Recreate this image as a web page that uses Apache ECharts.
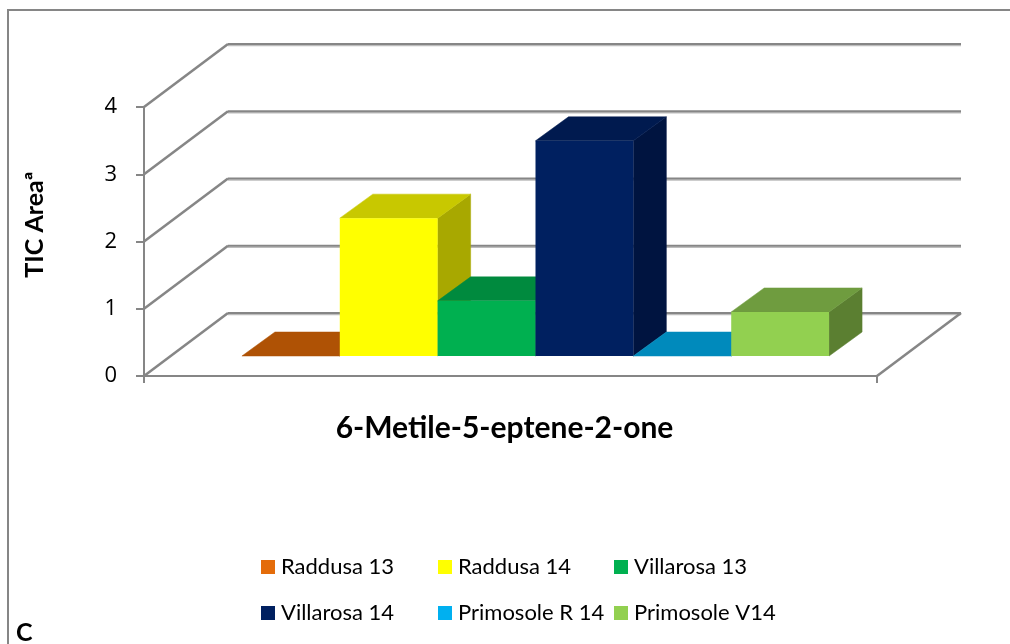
<!DOCTYPE html>
<html><head><meta charset="utf-8">
<style>html,body{margin:0;padding:0;background:#fff}#c{width:1010px;height:644px}</style>
<script src="https://cdn.jsdelivr.net/npm/echarts@6/dist/echarts.min.js"></script>
</head><body><div id="c"></div>
<script>
const categories = ['6-Metile-5-eptene-2-one'];
const seriesNames = ['Raddusa 13','Raddusa 14','Villarosa 13','Villarosa 14','Primosole R 14','Primosole V14'];
const seriesValues = [0, 2.05, 0.82, 3.2, 0, 0.655];
const yTicks = [0,1,2,3,4];
const frontColors = ['#E46C0A','#FFFF00','#00B050','#002060','#00B0F0','#92D050'];
const topColors   = ['#AF5205','#C8C800','#008A3E','#001A4F','#008ABC','#6F9C3F'];
const sideColors  = ['#8F4304','#A8A800','#00713A','#001440','#006F98','#5B7F31'];

const FONT = 'Lato';
const AXIS = '#868686';
const WALL_DX = 84, WALL_DY = -63;
const FRONT_DX = 25, FRONT_DY = -20;
const BAR_DX = 33, BAR_DY = -24;
const BAR_FRAC = 0.1335;

function wallItem(params, api){
  const v = api.value(1);
  const p = api.coord([0, v]);
  const band = api.size([1,0])[0];
  const x0 = p[0]-band/2, y0 = p[1];
  const bx = x0+WALL_DX, by = y0+WALL_DY;
  const children = [
    {type:'polyline',shape:{points:[[bx,by+1.6],[bx+band,by+1.6]]},style:{fill:null,stroke:'#BDBDBD',lineWidth:1.5}},
    {type:'polyline',shape:{points:[[bx,by],[bx+band,by]]},style:{fill:null,stroke:AXIS,lineWidth:2}},
    {type:'polyline',shape:{points:[[x0,y0],[bx,by]]},style:{fill:null,stroke:AXIS,lineWidth:2.6}}
  ];
  if (v===0) children.push({type:'polyline',shape:{points:[[x0+band,y0],[bx+band,by]]},style:{fill:null,stroke:AXIS,lineWidth:2.6}});
  return {type:'group',children};
}
function barItem(i){
  return function(params, api){
    const base = api.coord([0,0]);
    const top = api.coord([0,api.value(1)]);
    const band = api.size([1,0])[0];
    const w = band*BAR_FRAC;
    const xl = base[0]-3*w+i*w+FRONT_DX, xr = xl+w;
    const yb = base[1]+FRONT_DY, yt = top[1]+FRONT_DY;
    const poly = (points,fill)=>({type:'polygon',shape:{points},style:{fill,stroke:fill,lineWidth:0.5}});
    return {type:'group',children:[
      poly([[xr,yb],[xr+BAR_DX,yb+BAR_DY],[xr+BAR_DX,yt+BAR_DY],[xr,yt]],sideColors[i]),
      poly([[xl,yt],[xr,yt],[xr+BAR_DX,yt+BAR_DY],[xl+BAR_DX,yt+BAR_DY]],topColors[i]),
      {type:'rect',shape:{x:xl,y:yt,width:w,height:yb-yt},style:{fill:frontColors[i]}}
    ]};
  };
}
const barSeries = seriesNames.map((name,i)=>({
  type:'custom',name,silent:true,clip:false,
  coordinateSystem:'cartesian2d',renderItem:barItem(i),
  itemStyle:{color:frontColors[i]},
  encode:{x:0,y:1},
  data:[[categories[0],seriesValues[i]]]
}));
const legendCol = (data,left)=>({
  orient:'vertical',left,top:555,data,icon:'rect',itemWidth:14,itemHeight:14,itemGap:22,
  selectedMode:false,padding:0,
  textStyle:{fontFamily:FONT,fontSize:22,color:'#000',padding:[0,0,0,1],lineHeight:24}
});
const chart = echarts.init(document.getElementById('c'),null,{renderer:'canvas'});
chart.setOption({
  animation:false,
  backgroundColor:'#fff',
  grid:{left:144,top:107,width:733,height:269},
  xAxis:{type:'category',data:categories,
    axisLine:{lineStyle:{color:AXIS,width:2}},
    axisTick:{show:true,length:7,lineStyle:{color:AXIS,width:2}},
    axisLabel:{margin:37,interval:0,fontFamily:FONT,fontWeight:'bold',fontSize:30,color:'#000',padding:[0,12,0,0]}},
  yAxis:{type:'value',min:0,max:4,interval:1,
    name:'TIC Areaª',nameLocation:'middle',nameGap:97,nameRotate:90,
    nameTextStyle:{fontFamily:FONT,fontWeight:'bold',fontSize:25,color:'#000',padding:[0,0,0,34]},
    axisLine:{show:true,lineStyle:{color:AXIS,width:2}},
    axisTick:{show:true,length:8,lineStyle:{color:AXIS,width:2}},
    splitLine:{show:false},
    axisLabel:{margin:27,fontFamily:'Open Sans',fontSize:22,color:'#000'}},
  legend:[
    legendCol([seriesNames[0],seriesNames[3]],261),
    legendCol([seriesNames[1],seriesNames[4]],438),
    legendCol([seriesNames[2],seriesNames[5]],614)
  ],
  graphic:[
    {type:'polyline',silent:true,z:-1,shape:{points:[[8,660],[8,10],[1020,10]]},style:{fill:null,stroke:AXIS,lineWidth:2}},
    {type:'text',silent:true,left:16,top:620,style:{text:'C',font:'bold 25px '+FONT,fill:'#000'}}
  ],
  series:[{type:'custom',name:'walls',silent:true,clip:false,coordinateSystem:'cartesian2d',
    renderItem:wallItem,encode:{x:0,y:1},
    data:yTicks.map(v=>[categories[0],v])}].concat(barSeries)
});
</script></body></html>
